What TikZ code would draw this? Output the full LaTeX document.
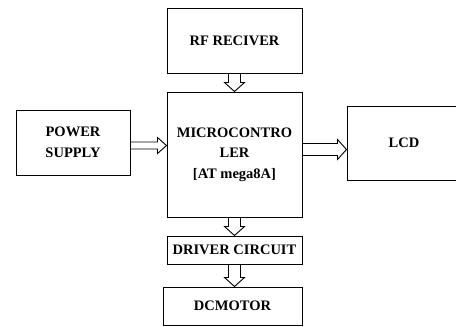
\documentclass[tikz,border=0pt]{standalone}
\usepackage{fontspec}
\setmainfont{Liberation Serif}
\usetikzlibrary{calc}
\tikzset{
  block/.style={draw, line width=1pt, align=center, inner sep=2pt,
    font=\fontsize{14.5}{20.5}\selectfont\bfseries},
  % freccia vuota: #1 mezza larghezza asta, #2 mezza larghezza punta
  fatarrow/.style 2 args={line width=0.9pt, line join=miter, to path={
    let \p1=($(\tikztotarget)!9pt!(\tikztostart)$) in
    ($(\tikztostart)!#1!90:(\tikztotarget)$) -- ($(\p1)!#1!90:(\tikztotarget)$)
    -- ($(\p1)!#2!90:(\tikztotarget)$) -- (\tikztotarget)
    -- ($(\p1)!#2!-90:(\tikztotarget)$) -- ($(\p1)!#1!-90:(\tikztotarget)$)
    -- ($(\tikztostart)!#1!-90:(\tikztotarget)$)}},
  bigarrow/.style={fatarrow={6pt}{10pt}}
}
\begin{document}
\begin{tikzpicture}[x=1pt, y=-1pt]
    \useasboundingbox (0,0) rectangle (456,327);
    % Blocchi
    \node[block, minimum width=135pt, minimum height=65pt] (rf) at (234.5, 40.5) {RF RECIVER};
    \node[block, minimum width=135pt, minimum height=125pt] (mcu) at (234.5, 154.5) {MICROCONTRO\\LER\\{[}AT mega8A{]}};
    \node[block, minimum width=114pt, minimum height=65pt] (psu) at (73, 142.5) {POWER\\SUPPLY};
    \node[block, minimum width=114pt, minimum height=74pt] (lcd) at (404, 143) {LCD};
    \node[block, minimum width=135pt, minimum height=28pt] (drv) at (234.5, 250) {DRIVER CIRCUIT};
    \node[block, minimum width=139pt, minimum height=38pt] (motor) at (232.5, 306) {DCMOTOR};

    % Frecce
    \draw[bigarrow] (rf.south) to (mcu.north);
    \draw[fatarrow={3.5pt}{8pt}] ([yshift=-3pt]psu.east) to ([yshift=-3pt]psu.east -| mcu.west);
    \draw[bigarrow] ([yshift=5pt]mcu.east) to ([yshift=5pt]mcu.east -| lcd.west);
    \draw[bigarrow] (mcu.south) to (drv.north);
    \draw[bigarrow] (drv.south) to (drv.south |- motor.north);
\end{tikzpicture}
\end{document}
